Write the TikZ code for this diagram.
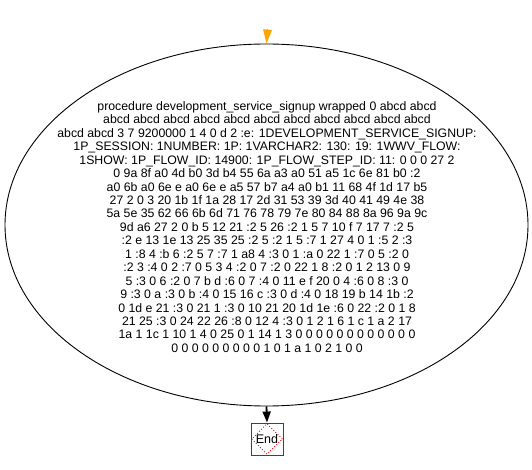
\documentclass[tikz,border=0pt]{standalone}
\usepackage{fontspec}
\setmainfont{Liberation Sans}
\usetikzlibrary{arrows.meta,shapes.geometric}
\definecolor{startorange}{RGB}{255,165,0}
\definecolor{endred}{RGB}{150,30,30}
\tikzset{
  procell/.style={draw=black,line width=0.9pt,ellipse,minimum width=523pt,minimum height=362pt,inner sep=0pt},
  proctext/.style={align=center,font=\fontsize{12.3}{13.45}\selectfont,inner sep=0pt},
  startarrow/.style={draw=startorange,line width=0pt,-{Triangle[width=9pt,length=14pt,fill=startorange,color=startorange]}},
  flowarrow/.style={draw=black,line width=1.8pt,-{Triangle[width=8pt,length=11pt]}},
  endbox/.style={draw=endred,line width=0.9pt,minimum width=32pt,minimum height=32pt,inner sep=0pt},
  enddiamond/.style={draw=red,dotted,line width=0.9pt,diamond,minimum width=31pt,minimum height=31pt,inner sep=0pt}
}
\begin{document}
\begin{tikzpicture}[x=1pt,y=-1pt]
\useasboundingbox (0,0) rectangle (532,470);
\node[procell] (proc) at (266.5,225) {};
\node[proctext] (ptext) at (267,227) {procedure development\_service\_signup wrapped 0 abcd abcd\\
abcd abcd abcd abcd abcd abcd abcd abcd abcd abcd abcd\\
abcd abcd 3 7 9200000 1 4 0 d 2 :e: 1DEVELOPMENT\_SERVICE\_SIGNUP:\\
1P\_SESSION: 1NUMBER: 1P: 1VARCHAR2: 130: 19: 1WWV\_FLOW:\\
1SHOW: 1P\_FLOW\_ID: 14900: 1P\_FLOW\_STEP\_ID: 11: 0 0 0 27 2\\
0 9a 8f a0 4d b0 3d b4 55 6a a3 a0 51 a5 1c 6e 81 b0 :2\\
a0 6b a0 6e e a0 6e e a5 57 b7 a4 a0 b1 11 68 4f 1d 17 b5\\
27 2 0 3 20 1b 1f 1a 28 17 2d 31 53 39 3d 40 41 49 4e 38\\
5a 5e 35 62 66 6b 6d 71 76 78 79 7e 80 84 88 8a 96 9a 9c\\
9d a6 27 2 0 b 5 12 21 :2 5 26 :2 1 5 7 10 f 7 17 7 :2 5\\
:2 e 13 1e 13 25 35 25 :2 5 :2 1 5 :7 1 27 4 0 1 :5 2 :3\\
1 :8 4 :b 6 :2 5 7 :7 1 a8 4 :3 0 1 :a 0 22 1 :7 0 5 :2 0\\
:2 3 :4 0 2 :7 0 5 3 4 :2 0 7 :2 0 22 1 8 :2 0 1 2 13 0 9\\
5 :3 0 6 :2 0 7 b d :6 0 7 :4 0 11 e f 20 0 4 :6 0 8 :3 0\\
9 :3 0 a :3 0 b :4 0 15 16 c :3 0 d :4 0 18 19 b 14 1b :2\\
0 1d e 21 :3 0 21 1 :3 0 10 21 20 1d 1e :6 0 22 :2 0 1 8\\
21 25 :3 0 24 22 26 :8 0 12 4 :3 0 1 2 1 6 1 c 1 a 2 17\\
1a 1 1c 1 10 1 4 0 25 0 1 14 1 3 0 0 0 0 0 0 0 0 0 0 0 0\\
0 0 0 0 0 0 0 0 0 1 0 1 a 1 0 2 1 0 0};
\coordinate (start) at (267.5,30);
\draw[startarrow] (start) -- (proc.north);
\node[endbox] (endb) at (267,439) {};
\node[enddiamond] (endd) at (endb.center) {};
\node[font=\fontsize{12.5}{14}\selectfont,inner sep=0pt] (endt) at (endb.center) {End};
\draw[flowarrow] (proc.south) -- (endb.north);
\end{tikzpicture}
\end{document}
